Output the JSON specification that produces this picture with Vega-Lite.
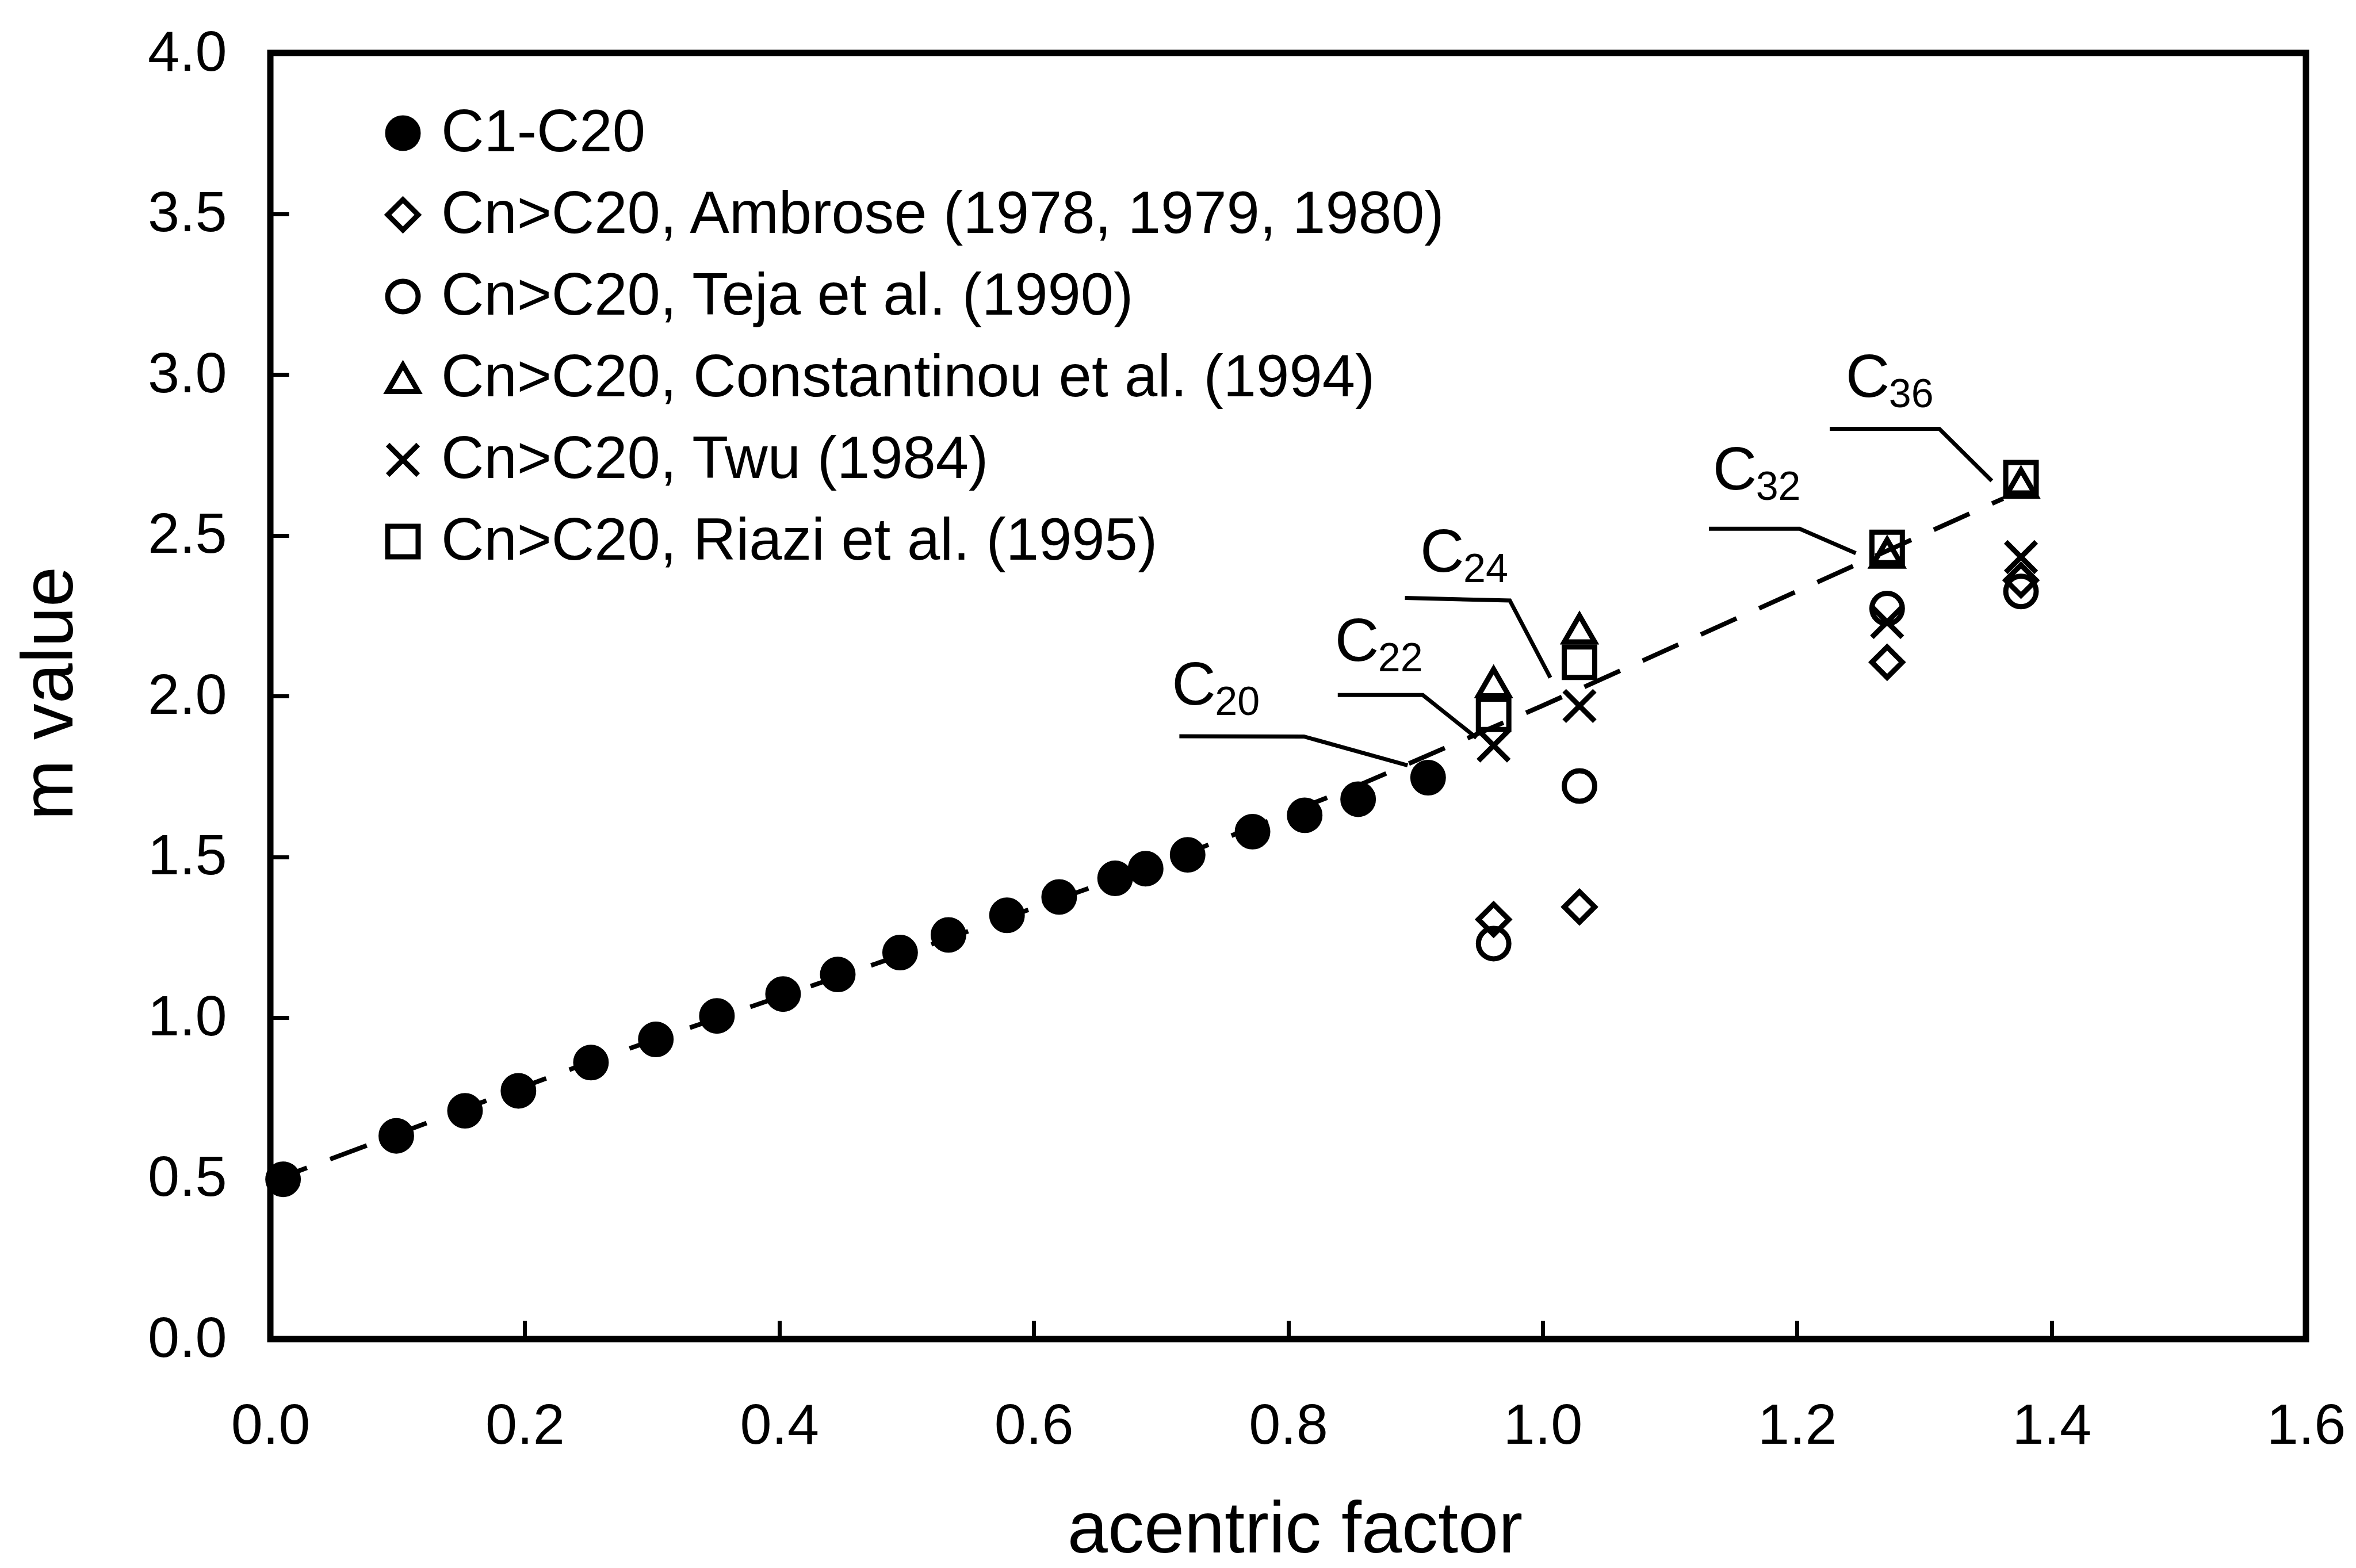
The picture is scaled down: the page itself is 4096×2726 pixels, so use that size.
{
  "$schema": "https://vega.github.io/schema/vega-lite/v6.json",
  "width": 3539,
  "height": 2236,
  "autosize": {"type": "none"},
  "padding": {"left": 470, "top": 92, "right": 87, "bottom": 398},
  "background": "white",
  "datasets": {
    "pts": [
      {"series": "C1-C20", "w": 0.010, "m": 0.497},
      {"series": "C1-C20", "w": 0.099, "m": 0.632},
      {"series": "C1-C20", "w": 0.153, "m": 0.710},
      {"series": "C1-C20", "w": 0.195, "m": 0.772},
      {"series": "C1-C20", "w": 0.252, "m": 0.860},
      {"series": "C1-C20", "w": 0.303, "m": 0.932},
      {"series": "C1-C20", "w": 0.351, "m": 1.005},
      {"series": "C1-C20", "w": 0.403, "m": 1.073},
      {"series": "C1-C20", "w": 0.446, "m": 1.134},
      {"series": "C1-C20", "w": 0.495, "m": 1.202},
      {"series": "C1-C20", "w": 0.533, "m": 1.257},
      {"series": "C1-C20", "w": 0.579, "m": 1.318},
      {"series": "C1-C20", "w": 0.620, "m": 1.375},
      {"series": "C1-C20", "w": 0.664, "m": 1.433},
      {"series": "C1-C20", "w": 0.688, "m": 1.463},
      {"series": "C1-C20", "w": 0.721, "m": 1.506},
      {"series": "C1-C20", "w": 0.772, "m": 1.578},
      {"series": "C1-C20", "w": 0.813, "m": 1.629},
      {"series": "C1-C20", "w": 0.855, "m": 1.679},
      {"series": "C1-C20", "w": 0.910, "m": 1.746},
      {"series": "Cn>C20, Ambrose (1978, 1979, 1980)", "w": 0.9615, "m": 1.305},
      {"series": "Cn>C20, Ambrose (1978, 1979, 1980)", "w": 1.029, "m": 1.344},
      {"series": "Cn>C20, Ambrose (1978, 1979, 1980)", "w": 1.2708, "m": 2.105},
      {"series": "Cn>C20, Ambrose (1978, 1979, 1980)", "w": 1.376, "m": 2.36},
      {"series": "Cn>C20, Teja et al. (1990)", "w": 0.9615, "m": 1.230},
      {"series": "Cn>C20, Teja et al. (1990)", "w": 1.029, "m": 1.720},
      {"series": "Cn>C20, Teja et al. (1990)", "w": 1.2708, "m": 2.272},
      {"series": "Cn>C20, Teja et al. (1990)", "w": 1.376, "m": 2.325},
      {"series": "Cn>C20, Constantinou et al. (1994)", "w": 0.9615, "m": 2.042},
      {"series": "Cn>C20, Constantinou et al. (1994)", "w": 1.029, "m": 2.209},
      {"series": "Cn>C20, Constantinou et al. (1994)", "w": 1.2708, "m": 2.445},
      {"series": "Cn>C20, Constantinou et al. (1994)", "w": 1.376, "m": 2.662},
      {"series": "Cn>C20, Twu (1984)", "w": 0.9615, "m": 1.846},
      {"series": "Cn>C20, Twu (1984)", "w": 1.029, "m": 1.969},
      {"series": "Cn>C20, Twu (1984)", "w": 1.2708, "m": 2.230},
      {"series": "Cn>C20, Twu (1984)", "w": 1.376, "m": 2.432},
      {"series": "Cn>C20, Riazi et al. (1995)", "w": 0.9615, "m": 1.943},
      {"series": "Cn>C20, Riazi et al. (1995)", "w": 1.029, "m": 2.105},
      {"series": "Cn>C20, Riazi et al. (1995)", "w": 1.2708, "m": 2.462},
      {"series": "Cn>C20, Riazi et al. (1995)", "w": 1.376, "m": 2.679}
    ],
    "curve": [
      {"w": 0.0, "m": 0.49},
      {"w": 0.25, "m": 0.86},
      {"w": 0.50, "m": 1.20},
      {"w": 0.72, "m": 1.51},
      {"w": 0.86, "m": 1.73},
      {"w": 1.0, "m": 1.97},
      {"w": 1.362, "m": 2.614}
    ],
    "leaders": [
      {"lab": "20", "i": 0, "w": 0.7145, "m": 1.875},
      {"lab": "20", "i": 1, "w": 0.8124, "m": 1.874},
      {"lab": "20", "i": 2, "w": 0.8939, "m": 1.784},
      {"lab": "22", "i": 0, "w": 0.839, "m": 2.003},
      {"lab": "22", "i": 1, "w": 0.9058, "m": 2.003},
      {"lab": "22", "i": 2, "w": 0.948, "m": 1.870},
      {"lab": "24", "i": 0, "w": 0.8918, "m": 2.305},
      {"lab": "24", "i": 1, "w": 0.9742, "m": 2.297},
      {"lab": "24", "i": 2, "w": 1.0061, "m": 2.057},
      {"lab": "32", "i": 0, "w": 1.1307, "m": 2.520},
      {"lab": "32", "i": 1, "w": 1.2020, "m": 2.520},
      {"lab": "32", "i": 2, "w": 1.2462, "m": 2.444},
      {"lab": "36", "i": 0, "w": 1.2257, "m": 2.831},
      {"lab": "36", "i": 1, "w": 1.3118, "m": 2.831},
      {"lab": "36", "i": 2, "w": 1.3531, "m": 2.669}
    ],
    "labels": [
      {"sub": "20", "w": 0.7108, "m": 1.974},
      {"sub": "22", "w": 0.839, "m": 2.110},
      {"sub": "24", "w": 0.906, "m": 2.387},
      {"sub": "32", "w": 1.136, "m": 2.642},
      {"sub": "36", "w": 1.2405, "m": 2.930}
    ]
  },
  "layer": [
    {
      "data": {"name": "curve"},
      "mark": {"type": "line", "color": "black", "strokeWidth": 8, "strokeDash": [68, 43]},
      "encoding": {
        "x": {"field": "w", "type": "quantitative", "scale": {"domain": [0, 1.6], "nice": false, "zero": false}, "title": "acentric factor"},
        "y": {"field": "m", "type": "quantitative", "scale": {"domain": [0, 4], "nice": false, "zero": false}, "title": "m value"}
      }
    },
    {
      "data": {"name": "leaders"},
      "mark": {"type": "line", "color": "black", "strokeWidth": 7},
      "encoding": {
        "x": {"field": "w", "type": "quantitative", "scale": {"domain": [0, 1.6], "nice": false, "zero": false}, "title": "acentric factor"},
        "y": {"field": "m", "type": "quantitative", "scale": {"domain": [0, 4], "nice": false, "zero": false}, "title": "m value"},
        "detail": {"field": "lab", "type": "nominal"},
        "order": {"field": "i", "type": "quantitative"}
      }
    },
    {
      "data": {"name": "pts"},
      "mark": {"type": "point", "filled": false, "strokeWidth": 9, "size": 2800, "opacity": 1},
      "encoding": {
        "x": {"field": "w", "type": "quantitative", "scale": {"domain": [0, 1.6], "nice": false, "zero": false}, "title": "acentric factor"},
        "y": {"field": "m", "type": "quantitative", "scale": {"domain": [0, 4], "nice": false, "zero": false}, "title": "m value"},
        "color": {
          "field": "series", "type": "nominal",
          "scale": {
            "domain": ["C1-C20", "Cn>C20, Ambrose (1978, 1979, 1980)", "Cn>C20, Teja et al. (1990)", "Cn>C20, Constantinou et al. (1994)", "Cn>C20, Twu (1984)", "Cn>C20, Riazi et al. (1995)"],
            "range": ["black", "black", "black", "black", "black", "black"]
          },
          "legend": {"orient": "none", "legendX": 179, "legendY": 88, "title": null}
        },
        "shape": {
          "field": "series", "type": "nominal",
          "scale": {
            "domain": ["C1-C20", "Cn>C20, Ambrose (1978, 1979, 1980)", "Cn>C20, Teja et al. (1990)", "Cn>C20, Constantinou et al. (1994)", "Cn>C20, Twu (1984)", "Cn>C20, Riazi et al. (1995)"],
            "range": ["circle", "diamond", "circle", "triangle-up", "M-1,-1L1,1M1,-1L-1,1", "square"]
          },
          "legend": {"orient": "none", "legendX": 179, "legendY": 88, "title": null}
        },
        "fill": {
          "field": "series", "type": "nominal",
          "scale": {
            "domain": ["C1-C20", "Cn>C20, Ambrose (1978, 1979, 1980)", "Cn>C20, Teja et al. (1990)", "Cn>C20, Constantinou et al. (1994)", "Cn>C20, Twu (1984)", "Cn>C20, Riazi et al. (1995)"],
            "range": ["black", "transparent", "transparent", "transparent", "transparent", "transparent"]
          },
          "legend": {"orient": "none", "legendX": 179, "legendY": 88, "title": null}
        }
      }
    },
    {
      "data": {"name": "labels"},
      "mark": {"type": "text", "text": "C", "fontSize": 106, "align": "left", "baseline": "alphabetic", "dx": -5, "color": "black"},
      "encoding": {
        "x": {"field": "w", "type": "quantitative", "scale": {"domain": [0, 1.6], "nice": false, "zero": false}, "title": "acentric factor"},
        "y": {"field": "m", "type": "quantitative", "scale": {"domain": [0, 4], "nice": false, "zero": false}, "title": "m value"}
      }
    },
    {
      "data": {"name": "labels"},
      "mark": {"type": "text", "fontSize": 70, "align": "left", "baseline": "alphabetic", "dx": 70, "dy": 18, "color": "black"},
      "encoding": {
        "x": {"field": "w", "type": "quantitative", "scale": {"domain": [0, 1.6], "nice": false, "zero": false}, "title": "acentric factor"},
        "y": {"field": "m", "type": "quantitative", "scale": {"domain": [0, 4], "nice": false, "zero": false}, "title": "m value"},
        "text": {"field": "sub", "type": "nominal"}
      }
    }
  ],
  "config": {
    "font": "Liberation Sans",
    "view": {"stroke": "black", "strokeWidth": 11},
    "axis": {
      "grid": false,
      "domain": false,
      "labelColor": "black",
      "tickColor": "black",
      "tickWidth": 7,
      "tickSize": -32,
      "labelFontSize": 99,
      "labelFont": "Liberation Sans",
      "format": ".1f",
      "tickCount": 8,
      "labelFlush": false,
      "labelOverlap": false,
      "titleFont": "Liberation Sans",
      "titleFontSize": 126,
      "titleFontWeight": "normal",
      "titleColor": "black"
    },
    "axisX": {
      "labelPadding": 135,
      "titleX": 1781,
      "titleY": 370,
      "titleAlign": "center",
      "titleBaseline": "alphabetic"
    },
    "axisY": {
      "labelPadding": 108,
      "titleAngle": -90,
      "titleX": -345,
      "titleY": 1113,
      "titleAlign": "center",
      "titleBaseline": "alphabetic"
    },
    "legend": {
      "labelFontSize": 103,
      "labelFont": "Liberation Sans",
      "labelColor": "black",
      "labelLimit": 0,
      "symbolSize": 2800,
      "symbolStrokeWidth": 9,
      "rowPadding": 38,
      "labelOffset": 15,
      "padding": 0
    }
  }
}
